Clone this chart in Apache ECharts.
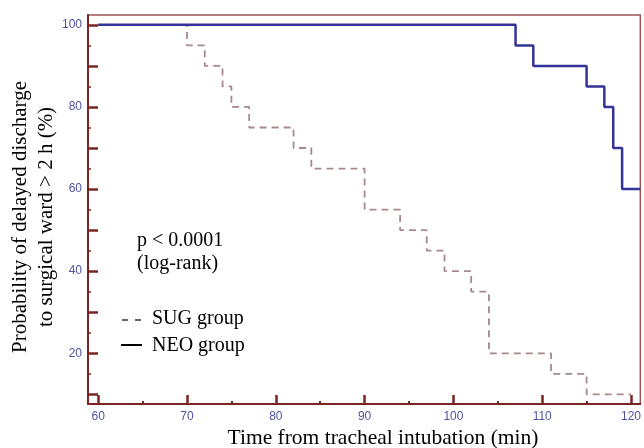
<!DOCTYPE html>
<html>
<head>
<meta charset="utf-8">
<script src="https://cdn.jsdelivr.net/npm/echarts@6/dist/echarts.min.js"></script>
<style>
html,body{margin:0;padding:0;background:#fff;}
#chart{width:644px;height:448px;}
</style>
</head>
<body>
<div id="chart"></div>
<script>
// Kaplan-Meier data
const sugTimes = [60, 70, 72, 74, 75, 77, 82, 84, 90, 94, 97, 99, 102, 104, 111, 115, 120];
const sugValues = [100, 95, 90, 85, 80, 75, 70, 65, 55, 50, 45, 40, 35, 20, 15, 10, 10];
const neoTimes = [60, 107, 109, 115, 117, 118, 119, 121.05];
const neoValues = [100, 95, 90, 85, 80, 70, 60, 60];

const xLabels = [60, 70, 80, 90, 100, 110, 120];
const xMajorTicks = [60, 70, 80, 90, 100, 110, 120];
const xMinorTicks = [65, 75, 85, 95, 105, 115];
const yLabels = [20, 40, 60, 80, 100];
const yMajorTicks = [10, 20, 30, 40, 50, 60, 70, 80, 90, 100];
const yMinorTicks = [15, 25, 35, 45, 55, 65, 75, 85, 95];

const xMin = 58.85, xMax = 121.05, yMin = 7.65, yMax = 102.4;

const axisRed = '#7a2424';
const labelBlue = '#4f53a0';

const chart = echarts.init(document.getElementById('chart'), null, {renderer: 'canvas'});

function pairs(xs, ys) { return xs.map((x, i) => [x, ys[i]]); }

const serif = '"Liberation Serif", "DejaVu Serif", serif';

chart.setOption({
  animation: false,
  backgroundColor: '#fff',
  grid: {left: 88, top: 15, right: 2, bottom: 44, show: true, borderColor: '#9a5656', borderWidth: 1.5, backgroundColor: 'transparent'},
  xAxis: [
    {
      type: 'value', min: xMin, max: xMax, position: 'bottom',
      axisLine: {show: true, lineStyle: {color: axisRed, width: 2}},
      axisTick: {show: true, inside: true, length: 9, lineStyle: {color: axisRed, width: 2.5}, customValues: xMajorTicks},
      axisLabel: {show: true, customValues: xLabels, color: labelBlue, fontSize: 12, fontFamily: '"Liberation Sans", Arial, sans-serif', margin: 7},
      splitLine: {show: false}
    },
    {
      type: 'value', min: xMin, max: xMax, position: 'bottom', offset: 0,
      axisLine: {show: false},
      axisTick: {show: true, inside: true, length: 3, lineStyle: {color: axisRed, width: 2}, customValues: xMinorTicks},
      axisLabel: {show: false},
      splitLine: {show: false}
    }
  ],
  yAxis: [
    {
      type: 'value', min: yMin, max: yMax, position: 'left',
      axisLine: {show: true, lineStyle: {color: axisRed, width: 2}},
      axisTick: {show: true, inside: true, length: 10, lineStyle: {color: axisRed, width: 2.5}, customValues: yMajorTicks},
      axisLabel: {show: true, customValues: yLabels, color: labelBlue, fontSize: 12, fontFamily: '"Liberation Sans", Arial, sans-serif', margin: 6},
      splitLine: {show: false}
    },
    {
      type: 'value', min: yMin, max: yMax, position: 'left', offset: 0,
      axisLine: {show: false},
      axisTick: {show: true, inside: true, length: 3, lineStyle: {color: axisRed, width: 1.5}, customValues: yMinorTicks},
      axisLabel: {show: false},
      splitLine: {show: false}
    }
  ],
  series: [
    {
      name: 'SUG group', type: 'line', step: 'end', xAxisIndex: 0, yAxisIndex: 0,
      data: pairs(sugTimes, sugValues), showSymbol: false, symbol: 'none',
      lineStyle: {color: '#a88a8a', width: 1.8, type: [7, 5]}, z: 3
    },
    {
      name: 'NEO group', type: 'line', step: 'end', xAxisIndex: 0, yAxisIndex: 0,
      data: pairs(neoTimes, neoValues), showSymbol: false, symbol: 'none',
      lineStyle: {color: '#34349a', width: 2.5}, z: 4
    }
  ],
  graphic: [
    {type: 'text', x: 383, y: 438, style: {text: 'Time from tracheal intubation (min)', font: '21.5px ' + serif, fill: '#000', align: 'center', verticalAlign: 'middle'}},
    {type: 'text', x: 20, y: 217, rotation: Math.PI / 2, style: {text: 'Probability of delayed discharge', font: '21px ' + serif, fill: '#000', align: 'center', verticalAlign: 'middle'}},
    {type: 'text', x: 46, y: 217, rotation: Math.PI / 2, style: {text: 'to surgical ward > 2 h (%)', font: '21px ' + serif, fill: '#000', align: 'center', verticalAlign: 'middle'}},
    {type: 'text', x: 137, y: 241, style: {text: 'p < 0.0001', font: '20px ' + serif, fill: '#000', align: 'left', verticalAlign: 'middle'}},
    {type: 'text', x: 137, y: 264, style: {text: '(log-rank)', font: '20px ' + serif, fill: '#000', align: 'left', verticalAlign: 'middle'}},
    {type: 'line', shape: {x1: 122, y1: 320, x2: 128, y2: 320}, style: {stroke: '#000', lineWidth: 1.2}},
    {type: 'line', shape: {x1: 135, y1: 320, x2: 141, y2: 320}, style: {stroke: '#000', lineWidth: 1.2}},
    {type: 'text', x: 152, y: 319, style: {text: 'SUG group', font: '20px ' + serif, fill: '#000', align: 'left', verticalAlign: 'middle'}},
    {type: 'line', shape: {x1: 121, y1: 345, x2: 142, y2: 345}, style: {stroke: '#000', lineWidth: 2}},
    {type: 'text', x: 152, y: 346, style: {text: 'NEO group', font: '20px ' + serif, fill: '#000', align: 'left', verticalAlign: 'middle'}}
  ]
});
</script>
</body>
</html>
